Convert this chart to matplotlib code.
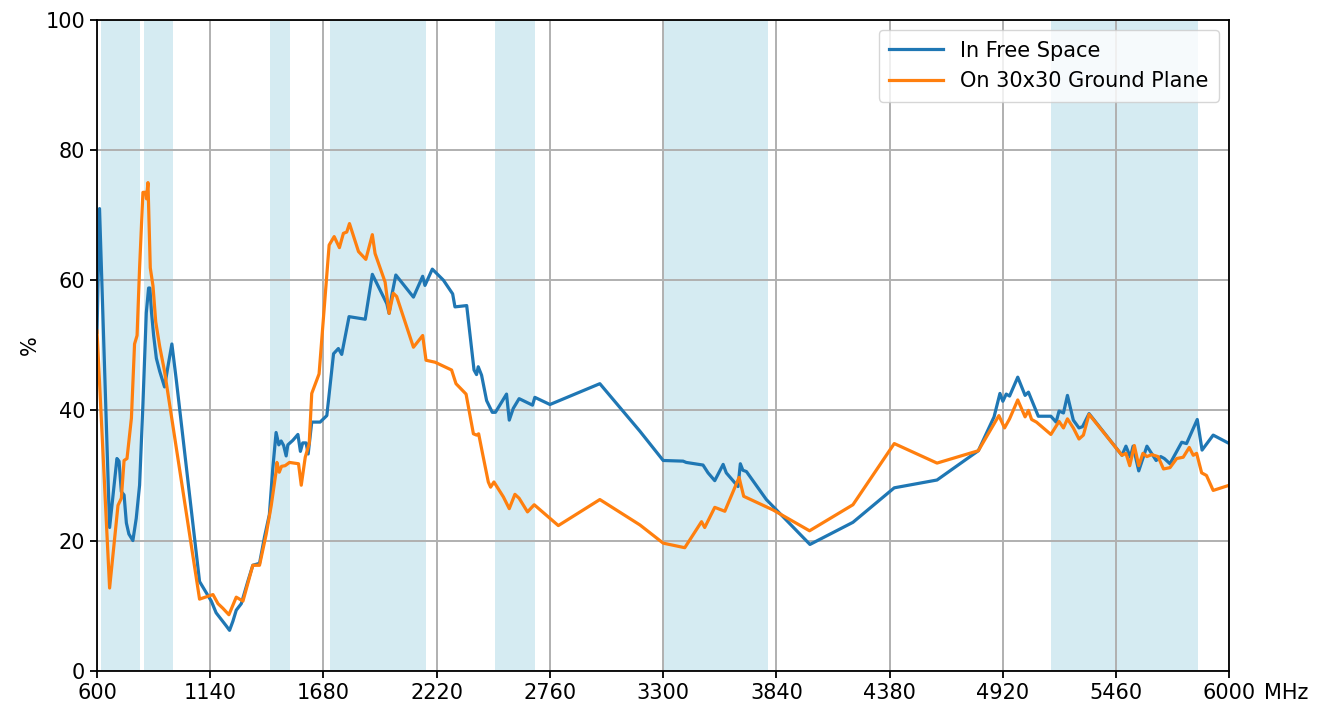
import numpy as np
import matplotlib
matplotlib.use("Agg")
import matplotlib.pyplot as plt

# frequency bands highlighted (MHz)
band_lo = [617, 824, 1427, 1710, 2496, 3300, 5150]
band_hi = [803, 960, 1518, 2170, 2690, 3800, 5850]

# efficiency, in free space
free_f = [600, 612, 660, 695, 705, 716, 729, 740, 752, 771, 787, 803, 819, 835, 846, 852,
          860, 870, 883, 899, 922, 938, 957, 978, 1089, 1113, 1145, 1168, 1192, 1216, 1232,
          1248, 1264, 1288, 1319, 1343, 1375, 1399, 1422, 1438, 1454, 1467, 1478, 1490, 1502,
          1510, 1534, 1558, 1570, 1581, 1597, 1607, 1624, 1664, 1696, 1728, 1751, 1767, 1802,
          1879, 1913, 1950, 1982, 1993, 2006, 2025, 2109, 2153, 2164, 2199, 2252, 2296, 2307,
          2363, 2398, 2410, 2418, 2434, 2458, 2485, 2500, 2553, 2566, 2585, 2613, 2677, 2688,
          2760, 2998, 3189, 3300, 3395, 3410, 3490, 3514, 3546, 3586, 3601, 3657, 3668, 3680,
          3697, 3792, 4000, 4205, 4402, 4606, 4803, 4878, 4906, 4920, 4936, 4952, 4991, 5026,
          5042, 5089, 5149, 5174, 5188, 5209, 5228, 5256, 5283, 5300, 5331, 5488, 5507, 5528,
          5541, 5568, 5607, 5651, 5673, 5690, 5717, 5773, 5796, 5847, 5870, 5923, 6000]
free_eff = [52, 71, 22, 32.6, 32.2, 27.5, 27, 22.7, 21, 20, 23.4, 28.5, 41, 55, 58.8, 58.8,
            55, 51.5, 48, 46, 43.6, 46.7, 50.2, 44.7, 13.7, 12.4, 10.7, 8.9, 7.9, 6.9, 6.2,
            7.6, 9.3, 10.3, 13.7, 16.2, 16.5, 20.6, 24, 31, 36.6, 34.7, 35.3, 34.6, 33,
            34.7, 35.4, 36.3, 33.7, 35, 35, 33.3, 38.2, 38.2, 39.2, 48.7, 49.5, 48.6, 54.4,
            54, 60.9, 58.5, 56.4, 54.9, 57.7, 60.8, 57.4, 60.6, 59.2, 61.7, 60, 57.9, 55.9,
            56.1, 46.2, 45.5, 46.7, 45.4, 41.5, 39.7, 39.7, 42.5, 38.5, 40.3, 41.8, 40.8, 42,
            40.9, 44.1, 36.8, 32.3, 32.2, 32, 31.6, 30.4, 29.2, 31.7, 30.4, 28.3, 31.8, 30.8,
            30.6, 26.3, 19.4, 22.8, 28.1, 29.3, 33.8, 39, 42.6, 41.4, 42.5, 42.2, 45.1, 42.3,
            42.8, 39.1, 39.1, 38.2, 39.9, 39.6, 42.3, 38.5, 37.3, 37.5, 39.5, 33.1, 34.5, 32.8,
            34.5, 30.7, 34.5, 32.3, 32.9, 32.6, 31.8, 35.1, 34.9, 38.6, 33.9, 36.2, 34.9]

# efficiency, on 30x30 ground plane
gp_f = [600, 660, 700, 716, 729, 743, 764, 779, 791, 803, 819, 832, 836, 843, 854, 867,
        880, 899, 922, 1089, 1153, 1160, 1177, 1200, 1229, 1264, 1296, 1343, 1375, 1407, 1431,
        1454, 1458, 1469, 1480, 1497, 1518, 1561, 1574, 1593, 1612, 1624, 1659, 1707, 1731,
        1756, 1775, 1791, 1804, 1847, 1882, 1913, 1926, 1974, 1993, 2013, 2029, 2109, 2153,
        2169, 2212, 2291, 2312, 2360, 2395, 2410, 2420, 2439, 2466, 2477, 2493, 2538, 2566,
        2593, 2613, 2653, 2685, 2800, 2998, 3189, 3300, 3403, 3483, 3498, 3546, 3594, 3662,
        3684, 3824, 3998, 4205, 4402, 4606, 4803, 4901, 4928, 4952, 4991, 5026, 5042, 5057,
        5080, 5149, 5188, 5209, 5228, 5256, 5283, 5304, 5331, 5488, 5507, 5525, 5547, 5568,
        5588, 5607, 5630, 5660, 5686, 5717, 5749, 5780, 5809, 5828, 5844, 5868, 5891, 5923,
        6000]
gp_eff = [52.2, 12.7, 25.4, 26.5, 32.3, 32.6, 38.8, 50.2, 51.5, 61.9, 73.5, 73.5, 72.5, 75,
          61.9, 59.1, 53.6, 49.8, 46, 11, 11.7, 11.3, 10.3, 9.6, 8.6, 11.3, 10.7, 16.2, 16.2,
          21, 25.4, 30.6, 32, 30.5, 31.4, 31.5, 32, 31.8, 28.5, 32.8, 34.9, 42.6, 45.6, 65.4,
          66.7, 65, 67.2, 67.4, 68.7, 64.4, 63.2, 67, 64.1, 59.7, 54.9, 58, 57.5, 49.7, 51.5,
          47.7, 47.4, 46.2, 44.1, 42.5, 36.4, 36.2, 36.4, 33.3, 29, 28.2, 29, 26.7, 24.9,
          27.1, 26.5, 24.4, 25.5, 22.3, 26.3, 22.4, 19.6, 18.9, 22.9, 22, 25.1, 24.5, 29.7,
          26.8, 24.7, 21.5, 25.5, 34.9, 31.9, 33.8, 39.2, 37.3, 38.7, 41.6, 39, 40, 38.6,
          38.2, 36.3, 38.3, 37.3, 38.7, 37.3, 35.6, 36.2, 39.4, 33.1, 33.4, 31.5, 34.6, 31.5,
          33.4, 32.9, 33.2, 32.9, 31, 31.2, 32.6, 32.8, 34.3, 33.1, 33.4, 30.4, 30, 27.7,
          28.5]

xticks = [600, 1140, 1680, 2220, 2760, 3300, 3840, 4380, 4920, 5460, 6000]

fig = plt.figure(figsize=(13.29, 7.09), dpi=100)
ax = fig.add_axes([0.073, 0.054, 0.852, 0.918])

for lo, hi in zip(band_lo, band_hi):
    ax.axvspan(lo, hi, color='lightblue', alpha=0.5, linewidth=0)

ax.plot(free_f, free_eff, color='#1f77b4', linewidth=2.3, label='In Free Space')
ax.plot(gp_f, gp_eff, color='#ff7f0e', linewidth=2.3, label='On 30x30 Ground Plane')

ax.set_xlim(600, 6000)
ax.set_ylim(0, 100)
ax.set_xticks(xticks)
ax.set_yticks([0, 20, 40, 60, 80, 100])
ax.tick_params(labelsize=15, length=5, width=1.3)
ax.set_ylabel('%', fontsize=15)
ax.grid(True, color='#b0b0b0', linewidth=1.4)
for s in ax.spines.values():
    s.set_linewidth(1.3)

# unit after the last tick label
ax.annotate('MHz', xy=(6000, 0), xycoords=('data', 'axes fraction'),
            xytext=(35, -12), textcoords='offset pixels', ha='left', va='top', fontsize=15)

ax.legend(loc='upper right', fontsize=15, handlelength=2.6, borderpad=0.5)

fig.savefig('out.png', dpi=100)
